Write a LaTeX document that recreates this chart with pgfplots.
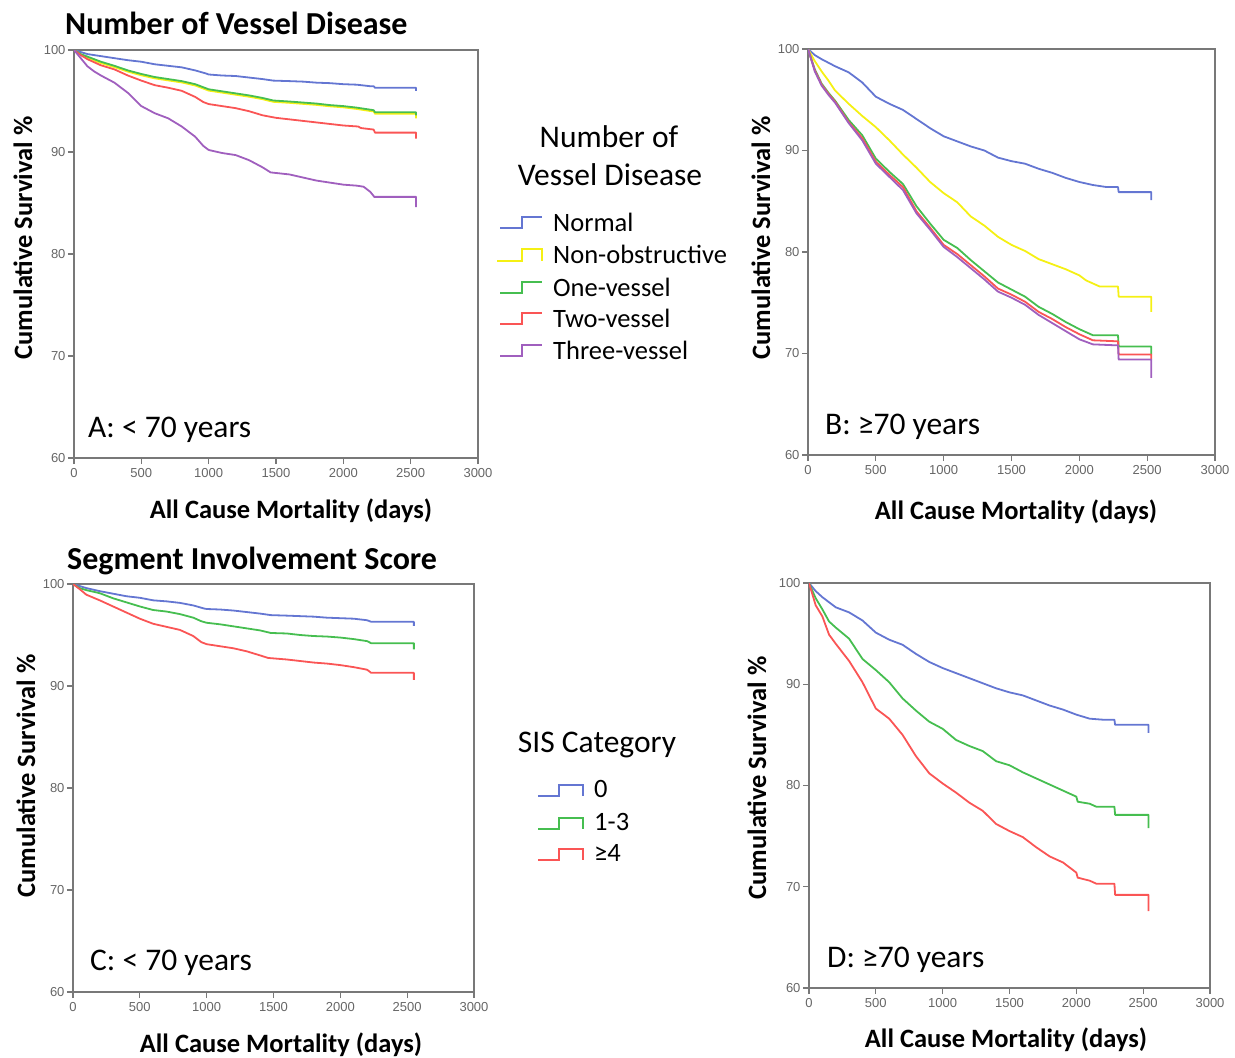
\documentclass[border=0pt]{standalone}
\usepackage{fontspec}
\setmainfont{Carlito}
\newfontfamily\tickfont{Liberation Sans}
\usepackage{pgfplots}
\pgfplotsset{compat=1.18}

\definecolor{cblue}{RGB}{100,118,210}
\definecolor{cyellow}{RGB}{245,240,20}
\definecolor{cgreen}{RGB}{70,190,80}
\definecolor{cred}{RGB}{250,85,85}
\definecolor{cpurple}{RGB}{160,95,190}
\definecolor{axgray}{RGB}{120,120,120}

\pgfplotsset{km/.style={
  scale only axis,
  xmin=0,xmax=3000,ymin=60,ymax=100,
  xtick={0,500,1000,1500,2000,2500,3000}, ytick={60,70,80,90,100},
  axis line style={axgray, line width=1.6pt},
  tick style={axgray, line width=1.1pt},
  tick align=outside, xtick pos=bottom, ytick pos=left,
  major tick length=6pt,
  tick label style={font=\fontsize{13}{13}\selectfont\tickfont, text=black!60},
  /pgf/number format/assume math mode=true,
  /pgf/number format/set thousands separator={},
  xticklabel style={yshift=-1pt},
  yticklabel style={xshift=1pt},
  every axis plot/.append style={sharp plot, line width=1.8pt, mark=none, line join=round},
}}

\begin{document}
\begin{tikzpicture}
\path[use as bounding box] (0pt,0pt) rectangle (1235pt,-1058pt);

% ---------------- Panel A ----------------
\begin{axis}[km, at={(74pt,-458pt)}, anchor=south west, width=404pt, height=408pt]
\addplot[cblue] coordinates {(0,100)(50,99.8)(100,99.6)(200,99.4)(300,99.2)(400,99.0)(500,98.85)(600,98.6)(700,98.45)(800,98.3)(900,98.0)(980,97.7)(1000,97.6)(1100,97.5)(1200,97.45)(1300,97.3)(1400,97.15)(1480,97.0)(1600,96.95)(1700,96.9)(1800,96.8)(1900,96.75)(2000,96.65)(2100,96.6)(2200,96.45)(2225,96.45)(2235,96.3)(2540,96.3)(2540,96.0)};
\addplot[cyellow] coordinates {(0,100)(50,99.55)(100,99.25)(200,98.72)(300,98.32)(400,97.88)(500,97.52)(600,97.22)(700,97.02)(800,96.82)(900,96.52)(960,96.22)(1000,96.02)(1100,95.82)(1200,95.62)(1300,95.42)(1400,95.18)(1480,94.92)(1600,94.82)(1700,94.72)(1800,94.62)(1900,94.48)(2000,94.38)(2100,94.22)(2200,94.02)(2225,93.98)(2235,93.75)(2540,93.75)(2540,93.3)};
\addplot[cgreen] coordinates {(0,100)(50,99.6)(100,99.35)(200,98.85)(300,98.45)(400,98.0)(500,97.65)(600,97.35)(700,97.15)(800,96.95)(900,96.65)(960,96.35)(1000,96.15)(1100,95.95)(1200,95.75)(1300,95.55)(1400,95.3)(1480,95.05)(1600,94.95)(1700,94.85)(1800,94.75)(1900,94.6)(2000,94.5)(2100,94.35)(2200,94.15)(2225,94.1)(2235,93.9)(2540,93.9)(2540,93.6)};
\addplot[cred] coordinates {(0,100)(50,99.5)(100,99.1)(200,98.5)(300,98.1)(400,97.5)(500,97.0)(600,96.55)(700,96.3)(800,96.0)(900,95.4)(960,94.9)(1000,94.7)(1100,94.5)(1200,94.3)(1300,94.0)(1400,93.6)(1500,93.35)(1600,93.2)(1700,93.05)(1800,92.9)(1900,92.75)(2000,92.6)(2110,92.5)(2130,92.35)(2225,92.2)(2235,91.9)(2540,91.9)(2540,91.3)};
\addplot[cpurple] coordinates {(0,100)(50,99.2)(100,98.4)(150,97.9)(200,97.5)(300,96.8)(400,95.8)(500,94.5)(600,93.8)(700,93.3)(800,92.5)(900,91.5)(960,90.6)(1000,90.2)(1100,89.9)(1200,89.7)(1300,89.2)(1400,88.5)(1460,88.0)(1600,87.8)(1700,87.5)(1800,87.2)(1900,87.0)(2000,86.8)(2100,86.7)(2150,86.6)(2200,86.1)(2230,85.6)(2540,85.6)(2540,84.6)};
\end{axis}

% ---------------- Panel B ----------------
\begin{axis}[km, at={(808pt,-455pt)}, anchor=south west, width=407pt, height=406pt]
\addplot[cblue] coordinates {(0,100)(50,99.4)(100,99.0)(200,98.3)(300,97.7)(400,96.7)(500,95.3)(600,94.6)(700,94.0)(800,93.1)(900,92.2)(1000,91.4)(1100,90.9)(1200,90.4)(1300,90.0)(1400,89.3)(1500,88.95)(1600,88.7)(1700,88.2)(1800,87.8)(1900,87.3)(2000,86.9)(2100,86.6)(2200,86.4)(2285,86.4)(2290,85.9)(2530,85.9)(2530,85.1)};
\addplot[cyellow] coordinates {(0,100)(50,98.8)(100,97.8)(150,96.9)(200,95.9)(300,94.6)(400,93.4)(500,92.3)(600,91.0)(700,89.6)(800,88.3)(900,86.9)(1000,85.8)(1100,84.9)(1200,83.5)(1300,82.6)(1400,81.5)(1500,80.7)(1600,80.1)(1700,79.3)(1800,78.8)(1900,78.3)(2000,77.7)(2050,77.2)(2100,76.9)(2150,76.6)(2285,76.6)(2290,75.6)(2530,75.6)(2530,74.1)};
\addplot[cgreen] coordinates {(0,100)(50,98.0)(100,96.6)(150,95.7)(200,94.9)(300,93.0)(400,91.5)(500,89.2)(600,87.9)(700,86.7)(800,84.5)(900,82.8)(1000,81.2)(1100,80.4)(1200,79.2)(1300,78.1)(1400,77.0)(1500,76.3)(1600,75.6)(1700,74.6)(1800,73.9)(1900,73.1)(2000,72.4)(2100,71.8)(2285,71.8)(2290,70.7)(2530,70.7)(2530,69.9)};
\addplot[cred] coordinates {(0,100)(50,97.9)(100,96.5)(150,95.6)(200,94.8)(300,92.8)(400,91.2)(500,88.9)(600,87.6)(700,86.4)(800,84.0)(900,82.4)(1000,80.7)(1100,79.8)(1200,78.7)(1300,77.6)(1400,76.4)(1500,75.8)(1600,75.1)(1700,74.1)(1800,73.4)(1900,72.6)(2000,71.9)(2100,71.3)(2285,71.2)(2290,69.9)(2530,69.9)(2530,69.4)};
\addplot[cpurple] coordinates {(0,100)(50,97.8)(100,96.4)(150,95.5)(200,94.7)(300,92.7)(400,91.0)(500,88.7)(600,87.4)(700,86.1)(800,83.8)(900,82.2)(1000,80.5)(1100,79.5)(1200,78.4)(1300,77.3)(1400,76.1)(1500,75.5)(1600,74.8)(1700,73.8)(1800,73.0)(1900,72.2)(2000,71.4)(2100,70.9)(2285,70.8)(2290,69.4)(2530,69.4)(2530,67.6)};
\end{axis}

% ---------------- Panel C ----------------
\begin{axis}[km, at={(73pt,-992pt)}, anchor=south west, width=401pt, height=408pt]
\addplot[cblue] coordinates {(0,100)(50,99.8)(100,99.6)(200,99.3)(300,99.05)(400,98.8)(500,98.65)(600,98.4)(700,98.3)(800,98.15)(900,97.9)(980,97.6)(1000,97.55)(1100,97.5)(1200,97.4)(1300,97.25)(1400,97.1)(1480,96.95)(1600,96.9)(1700,96.85)(1800,96.8)(1900,96.7)(2000,96.65)(2100,96.6)(2200,96.45)(2230,96.3)(2550,96.3)(2550,95.9)};
\addplot[cgreen] coordinates {(0,100)(50,99.6)(100,99.4)(200,99.1)(300,98.6)(400,98.2)(500,97.8)(600,97.45)(700,97.3)(800,97.05)(900,96.7)(960,96.35)(1000,96.2)(1100,96.05)(1200,95.85)(1300,95.65)(1400,95.45)(1480,95.2)(1600,95.15)(1700,95.0)(1800,94.9)(1900,94.85)(2000,94.75)(2100,94.6)(2200,94.4)(2230,94.2)(2550,94.2)(2550,93.6)};
\addplot[cred] coordinates {(0,100)(50,99.5)(100,98.95)(200,98.4)(300,97.8)(400,97.2)(500,96.6)(600,96.1)(700,95.8)(800,95.5)(900,94.9)(960,94.3)(1000,94.1)(1100,93.9)(1200,93.7)(1300,93.4)(1400,93.0)(1460,92.75)(1600,92.6)(1700,92.45)(1800,92.3)(1900,92.2)(2000,92.05)(2100,91.85)(2200,91.6)(2230,91.3)(2550,91.3)(2550,90.6)};
\end{axis}

% ---------------- Panel D ----------------
\begin{axis}[km, at={(809pt,-988pt)}, anchor=south west, width=401pt, height=405pt]
\addplot[cblue] coordinates {(0,100)(50,99.2)(100,98.6)(200,97.6)(300,97.1)(400,96.3)(500,95.1)(600,94.4)(700,93.9)(800,93.0)(900,92.2)(1000,91.6)(1100,91.1)(1200,90.6)(1300,90.1)(1400,89.6)(1500,89.2)(1600,88.9)(1700,88.4)(1800,87.9)(1900,87.5)(2000,87.0)(2100,86.6)(2200,86.5)(2285,86.5)(2290,86.0)(2540,86.0)(2540,85.2)};
\addplot[cgreen] coordinates {(0,100)(50,98.5)(100,97.4)(150,96.2)(200,95.6)(300,94.5)(400,92.5)(500,91.4)(600,90.2)(700,88.6)(800,87.4)(900,86.3)(1000,85.6)(1100,84.5)(1200,83.9)(1300,83.4)(1400,82.4)(1500,82.0)(1600,81.3)(1700,80.7)(1800,80.1)(1900,79.5)(2000,78.9)(2010,78.4)(2100,78.2)(2150,77.9)(2285,77.9)(2290,77.1)(2540,77.1)(2540,75.8)};
\addplot[cred] coordinates {(0,100)(50,97.8)(100,96.7)(150,94.9)(200,94.0)(300,92.3)(400,90.2)(500,87.6)(600,86.6)(700,85.0)(800,82.9)(900,81.2)(1000,80.2)(1100,79.3)(1200,78.3)(1300,77.5)(1400,76.2)(1500,75.5)(1600,74.9)(1700,73.9)(1800,73.0)(1900,72.4)(2000,71.4)(2010,70.9)(2100,70.6)(2150,70.3)(2285,70.3)(2290,69.2)(2540,69.2)(2540,67.6)};
\end{axis}

% ---------------- Titles and labels ----------------
\node[anchor=west, font=\fontsize{32}{34}\selectfont\bfseries, inner sep=0pt] at (65pt,-23pt) {Number of Vessel Disease};
\node[anchor=west, font=\fontsize{32}{34}\selectfont\bfseries, inner sep=0pt] at (67pt,-561pt) {Segment Involvement Score};

\tikzset{ylab/.style={rotate=90, font=\fontsize{26.5}{28}\selectfont\bfseries, inner sep=0pt},
         xlab/.style={font=\fontsize{26.5}{28}\selectfont\bfseries, inner sep=0pt},
         plab/.style={anchor=west, font=\fontsize{31.5}{33}\selectfont, inner sep=0pt}}
\node[ylab] at (23pt,-238pt) {Cumulative Survival \%};
\node[ylab] at (761pt,-238pt) {Cumulative Survival \%};
\node[ylab] at (26pt,-776pt) {Cumulative Survival \%};
\node[ylab] at (757pt,-778pt) {Cumulative Survival \%};

\node[xlab] at (291pt,-511pt) {All Cause Mortality (days)};
\node[xlab] at (1016pt,-512pt) {All Cause Mortality (days)};
\node[xlab] at (281pt,-1045pt) {All Cause Mortality (days)};
\node[xlab] at (1006pt,-1040pt) {All Cause Mortality (days)};

\node[plab] at (88pt,-430pt) {A: < 70 years};
\node[plab] at (825pt,-427pt) {B: ≥70 years};
\node[plab] at (90pt,-963pt) {C: < 70 years};
\node[plab] at (827pt,-960pt) {D: ≥70 years};

% ---------------- Legend 1 ----------------
\node[font=\fontsize{31.5}{33}\selectfont, inner sep=0pt] at (609pt,-137pt) {Number of};
\node[font=\fontsize{31.5}{33}\selectfont, inner sep=0pt] at (610pt,-175pt) {Vessel Disease};
\tikzset{legtxt/.style={anchor=west, font=\fontsize{26.5}{28}\selectfont, inner sep=0pt}}
\draw[cblue, line width=1.8pt] (500pt,-228pt) -- (522pt,-228pt) -- (522pt,-217pt) -- (542pt,-217pt);
\node[legtxt] at (553pt,-222pt) {Normal};
\draw[cyellow, line width=1.8pt] (497pt,-261pt) -- (522pt,-261pt) -- (522pt,-249pt) -- (542pt,-249pt) -- (542pt,-261pt);
\node[legtxt] at (553pt,-254pt) {Non-obstructive};
\draw[cgreen, line width=1.8pt] (500pt,-293pt) -- (522pt,-293pt) -- (522pt,-282pt) -- (542pt,-282pt);
\node[legtxt] at (553pt,-287pt) {One-vessel};
\draw[cred, line width=1.8pt] (500pt,-324pt) -- (522pt,-324pt) -- (522pt,-313pt) -- (542pt,-313pt);
\node[legtxt] at (553pt,-318pt) {Two-vessel};
\draw[cpurple, line width=1.8pt] (500pt,-356pt) -- (522pt,-356pt) -- (522pt,-345pt) -- (542pt,-345pt);
\node[legtxt] at (553pt,-350pt) {Three-vessel};

% ---------------- Legend 2 ----------------
\node[font=\fontsize{31.5}{33}\selectfont, inner sep=0pt] at (597pt,-745pt) {SIS Category};
\draw[cblue, line width=1.8pt] (538pt,-796pt) -- (559pt,-796pt) -- (559pt,-785pt) -- (583pt,-785pt) -- (583pt,-796pt);
\node[legtxt] at (594pt,-789pt) {0};
\draw[cgreen, line width=1.8pt] (538pt,-829pt) -- (559pt,-829pt) -- (559pt,-818pt) -- (583pt,-818pt) -- (583pt,-829pt);
\node[legtxt] at (594pt,-822pt) {1-3};
\draw[cred, line width=1.8pt] (538pt,-860pt) -- (559pt,-860pt) -- (559pt,-849pt) -- (583pt,-849pt) -- (583pt,-860pt);
\node[legtxt] at (594pt,-853pt) {≥4};
\end{tikzpicture}
\end{document}
